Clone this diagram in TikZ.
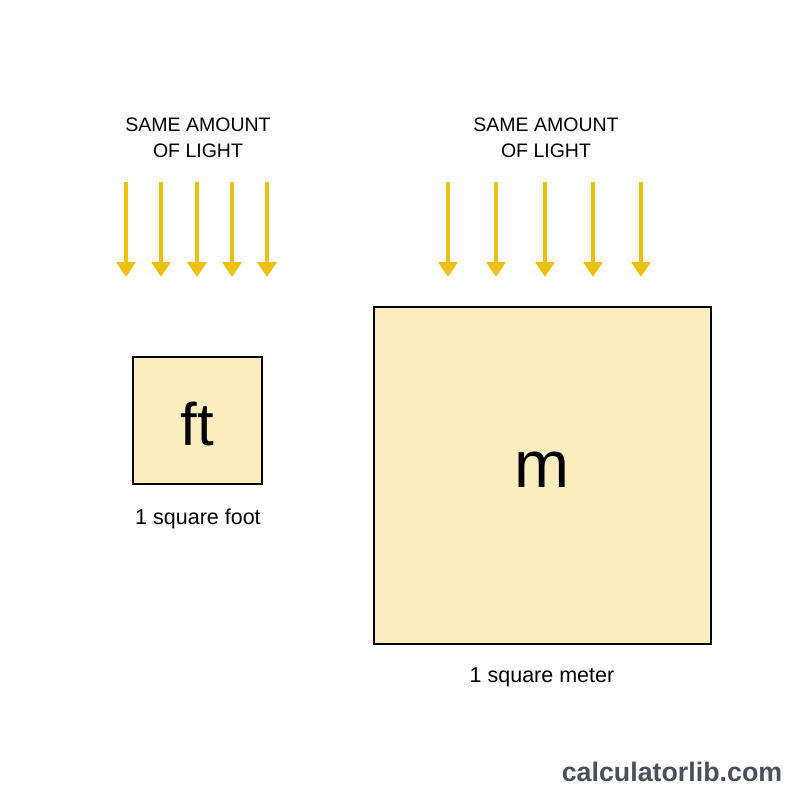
\documentclass[tikz,border=0pt]{standalone}
\usepackage{fontspec}
\setmainfont{Liberation Sans}
\usetikzlibrary{arrows.meta}
\definecolor{lightray}{HTML}{F0C010}
\definecolor{boxfill}{HTML}{FCEDBF}
\definecolor{markgray}{HTML}{4A4F5A}
\tikzset{
  ray/.style={draw=lightray, line width=3.6pt, -{Triangle[width=19pt,length=15pt]}},
  area/.style={draw=black, line width=2.8pt, fill=boxfill},
  caption/.style={font=\fontsize{19.5}{25.5}\selectfont, align=center, text=black},
  sublabel/.style={font=\fontsize{21.5}{26}\selectfont, text=black},
  unit/.style={text=black},
}
\begin{document}
\begin{tikzpicture}[x=1pt,y=-1pt]
\useasboundingbox[fill=white] (0,0) rectangle (800,800);
% headers
\node[caption] (hL) at (198,138) {SAME AMOUNT\\OF LIGHT};
\node[caption] (hR) at (546,138) {SAME AMOUNT\\OF LIGHT};
% rays
\foreach \i/\x in {1/126,2/161,3/197,4/232,5/267}{
  \coordinate (ls\i) at (\x,182);
  \coordinate (le\i) at (\x,277);
  \draw[ray] (ls\i) -- (le\i);
}
\foreach \i/\x in {1/448,2/496,3/545,4/593,5/641}{
  \coordinate (rs\i) at (\x,182);
  \coordinate (re\i) at (\x,277);
  \draw[ray] (rs\i) -- (re\i);
}
% boxes
\draw[area] (133,357) rectangle (262,484);
\node[unit, font=\fontsize{60}{70}\selectfont] (ft) at (197,424) {ft};
\draw[area] (374,307) rectangle (711,644);
\node[unit, font=\fontsize{66}{76}\selectfont] (m) at (542,470) {m};
% labels
\node[sublabel] (lf) at (198,519) {1 square foot};
\node[sublabel] (lm) at (542,677) {1 square meter};
\node[text=markgray, font=\fontsize{26.8}{32}\selectfont\bfseries] (brand) at (672,772) {calculatorlib.com};
\end{tikzpicture}
\end{document}
